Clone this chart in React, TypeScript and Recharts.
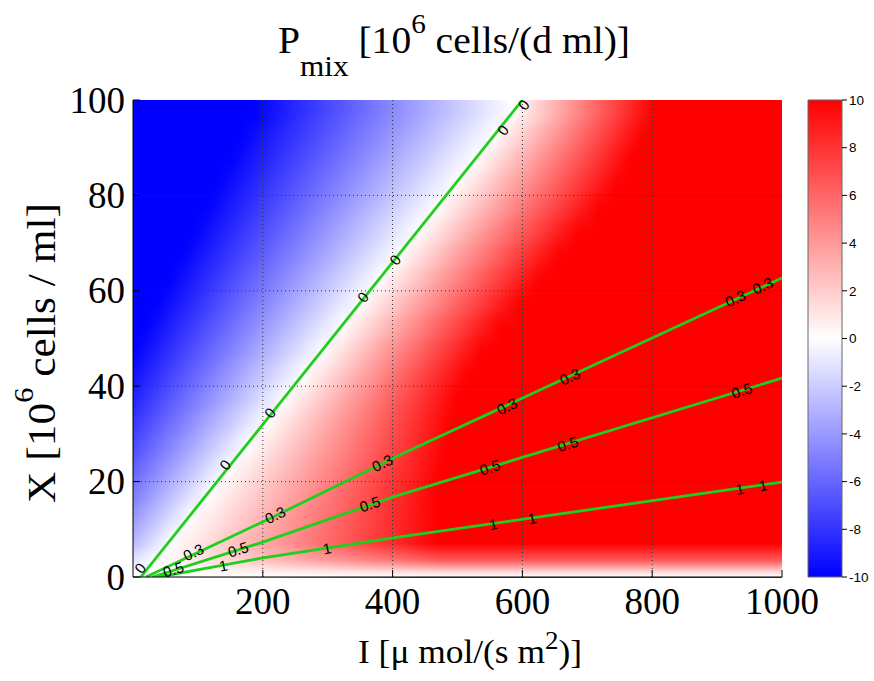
import React from "react";
import {
  ComposedChart,
  XAxis,
  YAxis,
  Line,
  Scatter,
  ReferenceArea,
  ReferenceLine,
} from "recharts";

/** P_mix over light intensity I and cell density X, with iso-lines of a second quantity. */

const iDomain = [0, 1000];
const xDomain = [0, 100];
const iTicks = [200, 400, 600, 800, 1000];
const xTicks = [0, 20, 40, 60, 80, 100];
const iGrid = [200, 400, 600, 800];
const xGrid = [20, 40, 60, 80];
const cbTicks = [-10, -8, -6, -4, -2, 0, 2, 4, 6, 8, 10];

// P_mix field, read row by row (5-unit bands of X): the I where the colour reaches -10, 0 and +10
const rowLow = [0, 5, 10, 15, 20, 25, 30, 35, 40, 45, 50, 55, 60, 65, 70, 75, 80, 85, 90, 95];
const blueEdge = [-165, -146, -128, -109, -91, -72, -54, -35, -17, 2, 20, 39, 57, 76, 94, 113, 131, 150, 168, 187];
const zeroEdge = [30, 59, 88, 117, 147, 176, 205, 234, 264, 293, 322, 351, 381, 410, 439, 468, 498, 527, 556, 585];
const redEdge = [474, 470, 466, 467, 475, 483, 489, 498, 515, 537, 565, 595, 625, 655, 686, 718, 745, 765, 784, 801];
const rowStep = 5;
const fadeTop = 7; // P_mix falls back to 0 as X -> 0

// green iso-lines
const line0 = [
  { I: 12, X: 0 },
  { I: 600, X: 100 },
];
const line03 = [
  { I: 20, X: 0 },
  { I: 216, X: 12.6 },
  { I: 411, X: 25.6 },
  { I: 1000, X: 62.7 },
];
const line05 = [
  { I: 30, X: 0 },
  { I: 200, X: 7.3 },
  { I: 401, X: 16.8 },
  { I: 1000, X: 41.7 },
];
const line1 = [
  { I: 40, X: 0 },
  { I: 200, X: 4 },
  { I: 411, X: 8.4 },
  { I: 1000, X: 19.9 },
];

// contour label spots
const labels0 = [
  { I: 11, X: 1.9 },
  { I: 142, X: 23.5 },
  { I: 211, X: 34.4 },
  { I: 354, X: 58.7 },
  { I: 404, X: 66.5 },
  { I: 570, X: 93.7 },
  { I: 602, X: 99 },
];
const labels03 = [
  { I: 93, X: 5.2 },
  { I: 219, X: 13 },
  { I: 384, X: 23.9 },
  { I: 576, X: 35.8 },
  { I: 673, X: 42 },
  { I: 928, X: 58.4 },
  { I: 970, X: 61.1 },
];
const labels05 = [
  { I: 62, X: 1.6 },
  { I: 162, X: 5.8 },
  { I: 365, X: 15.3 },
  { I: 550, X: 23 },
  { I: 670, X: 27.9 },
  { I: 938, X: 39.1 },
];
const labels1 = [
  { I: 139, X: 2.4 },
  { I: 299, X: 6 },
  { I: 555, X: 11.1 },
  { I: 615, X: 12.3 },
  { I: 935, X: 18.5 },
  { I: 971, X: 19.2 },
];

const SERIF = '"Liberation Serif", "Times New Roman", serif';
const SANS = '"Liberation Sans", Arial, sans-serif';
const GREEN = "#1ed01e";

function cmap(v: number) {
  const t = Math.max(-1, Math.min(1, v / 10));
  if (t < 0) {
    const c = Math.round(255 * (1 + t));
    return `rgb(${c},${c},255)`;
  }
  const c = Math.round(255 * (1 - t));
  return `rgb(255,${c},${c})`;
}

function HeatField(props: any) {
  const { x, y, width, height } = props;
  const px = (i: number) => x + ((i - iDomain[0]) / (iDomain[1] - iDomain[0])) * width;
  const py = (v: number) => y + ((xDomain[1] - v) / (xDomain[1] - xDomain[0])) * height;
  return (
    <g>
      <defs>
        <filter id="rowBlend" x="0" y="0" width="1" height="1" colorInterpolationFilters="sRGB">
          <feGaussianBlur stdDeviation="0 9" />
          <feComponentTransfer>
            <feFuncA type="table" tableValues="1 1" />
          </feComponentTransfer>
        </filter>
        {rowLow.map((_, k) => (
          <linearGradient
            key={k}
            id={`heatRow${k}`}
            gradientUnits="userSpaceOnUse"
            x1={px(blueEdge[k])}
            x2={px(redEdge[k])}
            y1={0}
            y2={0}
          >
            <stop offset={0} stopColor={cmap(-10)} />
            <stop
              offset={(zeroEdge[k] - blueEdge[k]) / (redEdge[k] - blueEdge[k])}
              stopColor={cmap(0)}
            />
            <stop offset={1} stopColor={cmap(10)} />
          </linearGradient>
        ))}
      </defs>
      <g filter="url(#rowBlend)">
        {rowLow.map((lo, k) => (
          <rect
            key={k}
            x={x}
            width={width}
            y={py(lo + rowStep)}
            height={py(lo) - py(lo + rowStep) + 0.5}
            fill={`url(#heatRow${k})`}
          />
        ))}
      </g>
    </g>
  );
}

const labelShape = (text: string, angle: number) => (p: any) => (
  <text
    x={p.cx}
    y={p.cy}
    transform={`rotate(${angle} ${p.cx} ${p.cy})`}
    textAnchor="middle"
    dominantBaseline="central"
    fontFamily={SANS}
    fontSize={15}
    fill="#000"
  >
    {text}
  </text>
);

const xTick = (p: any) => (
  <text x={p.x} y={p.y} textAnchor="middle" fontFamily={SERIF} fontSize={37} fill="#000">
    {p.payload.value}
  </text>
);

const yTick = (p: any) => (
  <text x={p.x} y={p.y} dy="0.34em" textAnchor="end" fontFamily={SERIF} fontSize={37} fill="#000">
    {p.payload.value}
  </text>
);

const cbTick = (p: any) => (
  <text x={p.x} y={p.y} dy="0.35em" textAnchor="start" fontFamily={SANS} fontSize={13.5} fill="#000">
    {p.payload.value}
  </text>
);

const axisStroke = { stroke: "#000", strokeWidth: 1 };

export default function App() {
  return (
    <div style={{ position: "absolute", left: 0, top: 0, width: 874, height: 681, background: "#fff" }}>
      <div style={{ position: "absolute", left: 0, top: 0 }}>
        <ComposedChart width={874} height={681} margin={{ top: 100, right: 92, bottom: 64, left: 73 }}>
          <ReferenceArea
            x1={iDomain[0]}
            x2={iDomain[1]}
            y1={xDomain[0]}
            y2={xDomain[1]}
            shape={HeatField}
          />
          <ReferenceArea
            x1={iDomain[0]}
            x2={iDomain[1]}
            y1={xDomain[0]}
            y2={fadeTop}
            fill="url(#bottomFade)"
            fillOpacity={1}
            stroke="none"
          />
          {iGrid.map((v) => (
            <ReferenceLine key={`gi${v}`} x={v} stroke="#333" strokeDasharray="1 3" />
          ))}
          {xGrid.map((v) => (
            <ReferenceLine key={`gx${v}`} y={v} stroke="#333" strokeDasharray="1 3" />
          ))}
          <Line data={line0} dataKey="X" type="linear" stroke={GREEN} strokeWidth={2.8} dot={false} isAnimationActive={false} />
          <Line data={line03} dataKey="X" type="linear" stroke={GREEN} strokeWidth={2.8} dot={false} isAnimationActive={false} />
          <Line data={line05} dataKey="X" type="linear" stroke={GREEN} strokeWidth={2.8} dot={false} isAnimationActive={false} />
          <Line data={line1} dataKey="X" type="linear" stroke={GREEN} strokeWidth={2.8} dot={false} isAnimationActive={false} />
          <Scatter data={labels0} shape={labelShape("0", -51)} isAnimationActive={false} />
          <Scatter data={labels03} shape={labelShape("0.3", -25)} isAnimationActive={false} />
          <Scatter data={labels05} shape={labelShape("0.5", -18)} isAnimationActive={false} />
          <Scatter data={labels1} shape={labelShape("1", -11)} isAnimationActive={false} />
          <XAxis
            type="number"
            dataKey="I"
            domain={iDomain}
            ticks={iTicks}
            interval={0}
            allowDataOverflow
            height={40}
            tickSize={-7}
            tickMargin={44}
            tick={xTick}
            axisLine={axisStroke}
            tickLine={axisStroke}
          />
          <XAxis
            xAxisId="top"
            orientation="top"
            type="number"
            domain={iDomain}
            ticks={iTicks}
            interval={0}
            height={0}
            tickSize={-7}
            tick={false}
            axisLine={axisStroke}
            tickLine={axisStroke}
          />
          <YAxis
            type="number"
            dataKey="X"
            domain={xDomain}
            ticks={xTicks}
            interval={0}
            allowDataOverflow
            width={60}
            tickSize={-7}
            tickMargin={15}
            tick={yTick}
            axisLine={axisStroke}
            tickLine={axisStroke}
          />
          <YAxis
            yAxisId="right"
            orientation="right"
            type="number"
            domain={xDomain}
            ticks={xTicks}
            interval={0}
            width={0}
            tickSize={-7}
            tick={false}
            axisLine={axisStroke}
            tickLine={axisStroke}
          />
        </ComposedChart>
      </div>

      <div style={{ position: "absolute", left: 780, top: 0 }}>
        <ComposedChart
          width={94}
          height={681}
          data={cbTicks.map((p) => ({ p }))}
          margin={{ top: 100, right: 0, bottom: 104, left: 28 }}
        >
          <ReferenceArea
            y1={cbTicks[0]}
            y2={cbTicks[cbTicks.length - 1]}
            fill="url(#cbFill)"
            fillOpacity={1}
            stroke="#666"
            strokeWidth={1}
          />
          <XAxis type="number" domain={[0, 1]} hide />
          <YAxis
            orientation="right"
            type="number"
            dataKey="p"
            domain={[cbTicks[0], cbTicks[cbTicks.length - 1]]}
            ticks={cbTicks}
            interval={0}
            width={32}
            tickSize={5}
            tickMargin={2}
            tick={cbTick}
            axisLine={false}
            tickLine={axisStroke}
          />
        </ComposedChart>
      </div>

      <svg
        width={874}
        height={681}
        style={{ position: "absolute", left: 0, top: 0, pointerEvents: "none" }}
      >
        <defs>
          <linearGradient id="bottomFade" x1="0" y1="1" x2="0" y2="0">
            <stop offset={0} stopColor="#fff" stopOpacity={1} />
            <stop offset={0.15} stopColor="#fff" stopOpacity={0.85} />
            <stop offset={0.5} stopColor="#fff" stopOpacity={0.35} />
            <stop offset={1} stopColor="#fff" stopOpacity={0} />
          </linearGradient>
          <linearGradient id="cbFill" x1="0" y1="0" x2="0" y2="1">
            <stop offset={0} stopColor={cmap(10)} />
            <stop offset={0.5} stopColor={cmap(0)} />
            <stop offset={1} stopColor={cmap(-10)} />
          </linearGradient>
        </defs>
        <text x={278} y={53} fontFamily={SERIF} fontSize={38} fill="#000" textLength={352} lengthAdjust="spacingAndGlyphs">
          P
          <tspan dy={23} fontSize={30}>mix</tspan>
          <tspan dy={-23}> [10</tspan>
          <tspan dy={-20} fontSize={28}>6</tspan>
          <tspan dy={20}> cells/(d ml)]</tspan>
        </text>
        <text x={358} y={663} fontFamily={SERIF} fontSize={34} fill="#000" textLength={224} lengthAdjust="spacingAndGlyphs">
          I [μ mol/(s m
          <tspan dy={-14} fontSize={26}>2</tspan>
          <tspan dy={14}>)]</tspan>
        </text>
        <text
          transform="translate(55 353) rotate(-90)"
          textAnchor="middle"
          fontFamily={SERIF}
          fontSize={40}
          fill="#000"
          textLength={300}
          lengthAdjust="spacingAndGlyphs"
        >
          X [10
          <tspan dy={-22} fontSize={28}>6</tspan>
          <tspan dy={22}> cells / ml]</tspan>
        </text>
      </svg>
    </div>
  );
}
